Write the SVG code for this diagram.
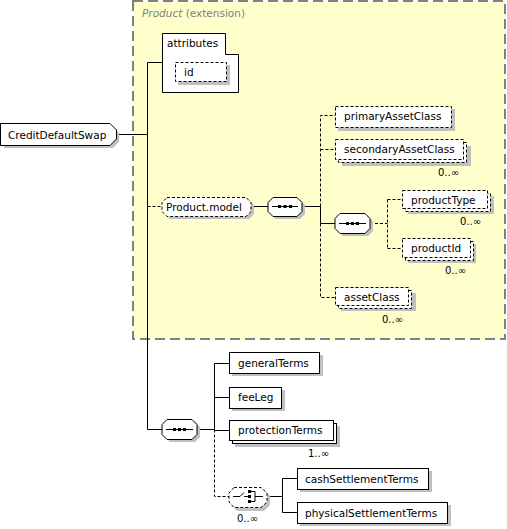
<svg xmlns="http://www.w3.org/2000/svg" width="507" height="529" viewBox="0 0 507 529">
<style>
text{font-family:"DejaVu Sans","Liberation Sans",sans-serif;font-size:10.5px;fill:#000}
.b{fill:#fff;stroke:#000;stroke-width:1}
.d{fill:#fff;stroke:#000;stroke-width:1;stroke-dasharray:3,2}
.sh{fill:#c0c0c0}
.ln{fill:none;stroke:#000;stroke-width:1}
.dl{fill:none;stroke:#000;stroke-width:1;stroke-dasharray:3,2}
.occ{font-size:10px}
.dot{fill:#000}
</style>
<rect x="0" y="0" width="507" height="529" fill="#fff"/>
<g id="ext">
<rect x="133" y="1" width="372" height="338" fill="#ffffcc" stroke="#808080" stroke-width="2" stroke-dasharray="10,5"/>
<text x="142" y="17" style="fill:#808080"><tspan font-style="italic">Product</tspan><tspan> (extension)</tspan></text>
</g>
<g id="connectors">
<path class="ln" d="M116.5,134.5H147.5M147.5,62.5V429.5H162M147.5,62.5H162"/>
<path class="dl" d="M147.5,206.5H162"/>
<path class="ln" d="M251,206.5H268M302,206.5H320.5V223.5H335"/>
<path class="dl" d="M320.5,206.5V115.5H335M320.5,149.5H335M320.5,223.5V297.5H335"/>
<path class="dl" d="M370,223.5H387.5M387.5,199.5V248.5M387.5,199.5H402M387.5,248.5H402"/>
<path class="ln" d="M197,429.5H214.5M214.5,363.5V429.5M214.5,363.5H229M214.5,397.5H229M214.5,430.5H229"/>
<path class="dl" d="M214.5,429.5V496.5H229"/>
<path class="ln" d="M267,496.5H282.5M282.5,478.5V512.5M282.5,478.5H297M282.5,512.5H297"/>
</g>
<g id="CreditDefaultSwap">
<path class="sh" d="M4,127H113L119,133V142L113,148H4Z"/>
<path class="b" d="M0.5,123.5H110L116.5,130V139L110,145.5H0.5Z"/>
<text x="8" y="139">CreditDefaultSwap</text>
</g>
<g id="attributes">
<path class="b" d="M162.5,33.5H225.5V54.5H238.5V92.5H162.5Z"/>
<text x="167" y="47">attributes</text>
<rect class="sh" x="178" y="65" width="52" height="20"/>
<rect class="d" x="175.5" y="62.5" width="51" height="19"/>
<text x="184" y="76">id</text>
</g>
<g id="Product.model">
<path class="sh" d="M170,200H249L254,205V214L249,219H170L165,214V205Z"/>
<path class="d" d="M167,197.5H246L251,202.5V211.5L246,216.5H167L162,211.5V202.5Z"/>
<text x="166" y="211">Product.model</text>
</g>
<g id="seq1">
<path class="sh" d="M276,200H300L305,205V214L300,219H276L271,214V205Z"/>
<path class="b" d="M273,197.5H297L302,202.5V211.5L297,216.5H273L268,211.5V202.5Z"/>
<path class="ln" d="M272,206.5H298"/>
<rect class="dot" x="278" y="205" width="3" height="3"/><rect class="dot" x="283.5" y="205" width="3" height="3"/><rect class="dot" x="289" y="205" width="3" height="3"/>
</g>
<g id="primaryAssetClass">
<rect class="sh" x="338" y="109" width="117" height="22"/>
<rect class="d" x="335.5" y="106.5" width="116" height="21"/>
<text x="344" y="120">primaryAssetClass</text>
</g>
<g id="secondaryAssetClass">
<rect class="sh" x="342" y="146" width="129" height="20"/>
<rect class="d" x="338.5" y="142.5" width="128" height="20"/>
<rect class="d" x="335.5" y="139.5" width="128" height="20"/>
<text x="344" y="153">secondaryAssetClass</text>
<text class="occ" x="438" y="176">0..∞</text>
</g>
<g id="seq2">
<path class="sh" d="M343,216H368L373,221V231L368,236H343L338,231V221Z"/>
<path class="b" d="M340,213.5H365L370,218.5V228.5L365,233.5H340L335,228.5V218.5Z"/>
<path class="ln" d="M339,223.5H366"/>
<rect class="dot" x="346" y="222" width="3" height="3"/><rect class="dot" x="351" y="222" width="3" height="3"/><rect class="dot" x="356" y="222" width="3" height="3"/>
</g>
<g id="productType">
<rect class="sh" x="408" y="196" width="86" height="18"/>
<rect class="d" x="405.5" y="193.5" width="85" height="18"/>
<rect class="d" x="402.5" y="190.5" width="85" height="18"/>
<text x="411" y="204">productType</text>
<text class="occ" x="460" y="225">0..∞</text>
</g>
<g id="productId">
<rect class="sh" x="408" y="244" width="68" height="19"/>
<rect class="d" x="405.5" y="241.5" width="68" height="19"/>
<rect class="d" x="402.5" y="238.5" width="68" height="19"/>
<text x="411" y="252">productId</text>
<text class="occ" x="445" y="274">0..∞</text>
</g>
<g id="assetClass">
<rect class="sh" x="341" y="293" width="75" height="18"/>
<rect class="d" x="338.5" y="290.5" width="73" height="18"/>
<rect class="d" x="335.5" y="287.5" width="73" height="18"/>
<text x="344" y="301">assetClass</text>
<text class="occ" x="382" y="323">0..∞</text>
</g>
<g id="seq3">
<path class="sh" d="M170,422H195L200,427V437L195,442H170L165,437V427Z"/>
<path class="b" d="M167,419.5H192L197,424.5V434.5L192,439.5H167L162,434.5V424.5Z"/>
<path class="ln" d="M166,429.5H193"/>
<rect class="dot" x="173" y="428" width="3" height="3"/><rect class="dot" x="178" y="428" width="3" height="3"/><rect class="dot" x="183" y="428" width="3" height="3"/>
</g>
<g id="generalTerms">
<rect class="sh" x="232" y="355" width="91" height="21"/>
<rect class="b" x="229.5" y="352.5" width="90" height="21"/>
<text x="238" y="367">generalTerms</text>
</g>
<g id="feeLeg">
<rect class="sh" x="232" y="390" width="53" height="21"/>
<rect class="b" x="229.5" y="387.5" width="52" height="21"/>
<text x="238" y="401">feeLeg</text>
</g>
<g id="protectionTerms">
<rect class="sh" x="235" y="426" width="105" height="21"/>
<rect class="b" x="232.5" y="423.5" width="104" height="20"/>
<rect class="b" x="229.5" y="420.5" width="104" height="20"/>
<text x="238" y="434">protectionTerms</text>
<text class="occ" x="308" y="457">1..∞</text>
</g>
<g id="choice">
<path class="sh" d="M237,490H264L270,496V505L264,511H237L232,505V496Z"/>
<path class="d" d="M234,487.5H261L267,493V502L261,507.5H234L229,502V493Z"/>
<path class="ln" d="M233,496.5H240L244,492.5M244,496.5H248"/>
<rect class="dot" x="248" y="490" width="3" height="3"/><rect class="dot" x="248" y="495" width="3" height="3"/><rect class="dot" x="248" y="500" width="3" height="3"/>
<path class="ln" d="M251,491.5H255V501.5H251M255,496.5H263"/>
<text class="occ" x="237" y="522">0..∞</text>
</g>
<g id="cashSettlementTerms">
<rect class="sh" x="300" y="471" width="132" height="21"/>
<rect class="b" x="297.5" y="468.5" width="131" height="21"/>
<text x="305" y="483">cashSettlementTerms</text>
</g>
<g id="physicalSettlementTerms">
<rect class="sh" x="300" y="505" width="151" height="21"/>
<rect class="b" x="297.5" y="502.5" width="150" height="21"/>
<text x="305" y="517">physicalSettlementTerms</text>
</g>
</svg>
